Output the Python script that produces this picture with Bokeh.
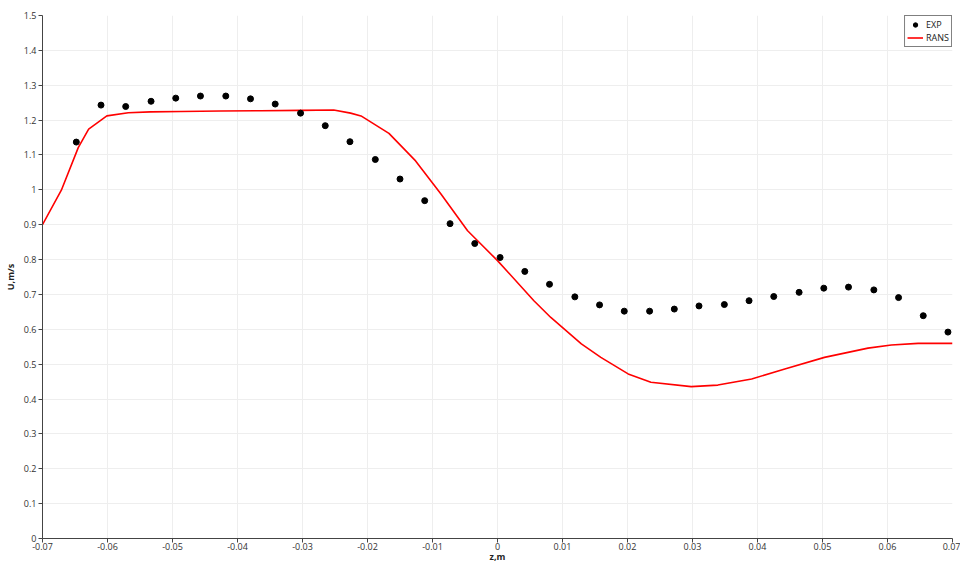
from bokeh.plotting import figure
from bokeh.models import Range1d, FixedTicker, Legend, LegendItem
from bokeh.embed import file_html
from bokeh.resources import INLINE

# Experimental data (EXP)
exp_z = [-0.0648, -0.0610, -0.0572, -0.0533, -0.0495, -0.0457, -0.0418, -0.0380,
         -0.0342, -0.0303, -0.0265, -0.0227, -0.0188, -0.0150, -0.0112, -0.0073,
         -0.0035, 0.0004, 0.0042, 0.0080, 0.0119, 0.0157, 0.0195, 0.0234,
         0.0272, 0.0310, 0.0349, 0.0387, 0.0425, 0.0464, 0.0502, 0.0540,
         0.0579, 0.0617, 0.0655, 0.0693]
exp_u = [1.137, 1.243, 1.239, 1.254, 1.263, 1.269, 1.269, 1.261,
         1.246, 1.220, 1.184, 1.138, 1.087, 1.031, 0.969, 0.903,
         0.846, 0.806, 0.766, 0.729, 0.693, 0.670, 0.652, 0.652,
         0.658, 0.667, 0.671, 0.682, 0.694, 0.706, 0.718, 0.721,
         0.713, 0.691, 0.639, 0.592]

# RANS simulation
rans_z = [-0.0700, -0.0671, -0.0645, -0.0629, -0.0601, -0.0568, -0.0534,
          -0.0487, -0.0426, -0.0364, -0.0303, -0.0252, -0.0226, -0.0210, -0.0167,
          -0.0126, -0.0087, -0.0046, 0.0000, 0.0056, 0.0082, 0.0129, 0.0159,
          0.0201, 0.0236, 0.0298, 0.0339, 0.0391, 0.0442, 0.0503, 0.0570,
          0.0606, 0.0647, 0.0698, 0.0700]
rans_u = [0.900, 0.999, 1.121, 1.174, 1.212, 1.221, 1.2235,
          1.2245, 1.226, 1.227, 1.228, 1.229, 1.220, 1.212, 1.162,
          1.083, 0.988, 0.8825, 0.797, 0.682, 0.634, 0.558, 0.5195,
          0.472, 0.448, 0.4355, 0.440, 0.4575, 0.486, 0.5195, 0.546,
          0.555, 0.5597, 0.5597, 0.5597]

x_ticks = [-0.07, -0.06, -0.05, -0.04, -0.03, -0.02, -0.01, 0, 0.01, 0.02, 0.03, 0.04, 0.05, 0.06, 0.07]
x_labels = ["-0.07", "-0.06", "-0.05", "-0.04", "-0.03", "-0.02", "-0.01", "0",
            "0.01", "0.02", "0.03", "0.04", "0.05", "0.06", "0.07"]
y_ticks = [0, 0.1, 0.2, 0.3, 0.4, 0.5, 0.6, 0.7, 0.8, 0.9, 1.0, 1.1, 1.2, 1.3, 1.4, 1.5]
y_labels = ["0", "0.1", "0.2", "0.3", "0.4", "0.5", "0.6", "0.7", "0.8", "0.9",
            "1", "1.1", "1.2", "1.3", "1.4", "1.5"]

FONT = "Open Sans"

p = figure(width=960, height=565, output_backend="svg", toolbar_location=None,
           x_range=Range1d(-0.07, 0.07), y_range=Range1d(0, 1.5),
           min_border_left=34, min_border_right=8, min_border_top=15, min_border_bottom=20)
p.outline_line_color = None
p.background_fill_color = "white"
p.border_fill_color = "white"

for ax, ticks, labels in ((p.xaxis[0], x_ticks, x_labels), (p.yaxis[0], y_ticks, y_labels)):
    ax.ticker = FixedTicker(ticks=ticks)
    ax.major_label_overrides = {t: l for t, l in zip(ticks, labels)}
    ax.minor_tick_line_color = None
    ax.major_tick_in = 0
    ax.major_tick_out = 4
    ax.axis_line_color = "#444444"
    ax.major_tick_line_color = "#444444"
    ax.major_label_text_font = FONT
    ax.major_label_text_font_size = "9px"
    ax.major_label_text_color = "#333333"
    ax.axis_label_text_font = FONT
    ax.axis_label_text_font_size = "9px"
    ax.axis_label_text_font_style = "bold"
    ax.axis_label_text_color = "#222222"

p.xaxis.axis_label = "z,m"
p.yaxis.axis_label = "U,m/s"
p.xaxis.major_label_standoff = 0
p.xaxis.axis_label_standoff = -3
p.yaxis.major_label_standoff = 2
p.yaxis.axis_label_standoff = 4

p.xgrid.grid_line_color = "#eeeeee"
p.ygrid.grid_line_color = "#eeeeee"
p.xgrid.ticker = FixedTicker(ticks=x_ticks)
p.ygrid.ticker = FixedTicker(ticks=y_ticks)

r_rans = p.line(rans_z, rans_u, line_color="#ff0000", line_width=1.6)
r_exp = p.scatter(exp_z, exp_u, size=6, fill_color="black", line_color="black")

legend = Legend(items=[LegendItem(label="EXP", renderers=[r_exp]),
                       LegendItem(label="RANS", renderers=[r_rans])],
                location="top_right", margin=0, padding=2, spacing=0,
                label_text_font=FONT, label_text_font_size="9px",
                label_text_color="#222222",
                label_standoff=3, glyph_width=16, glyph_height=11, label_height=11,
                border_line_color="black", border_line_width=1,
                background_fill_alpha=1)
p.add_layout(legend)

open("out.html", "w").write(file_html(p, INLINE))
